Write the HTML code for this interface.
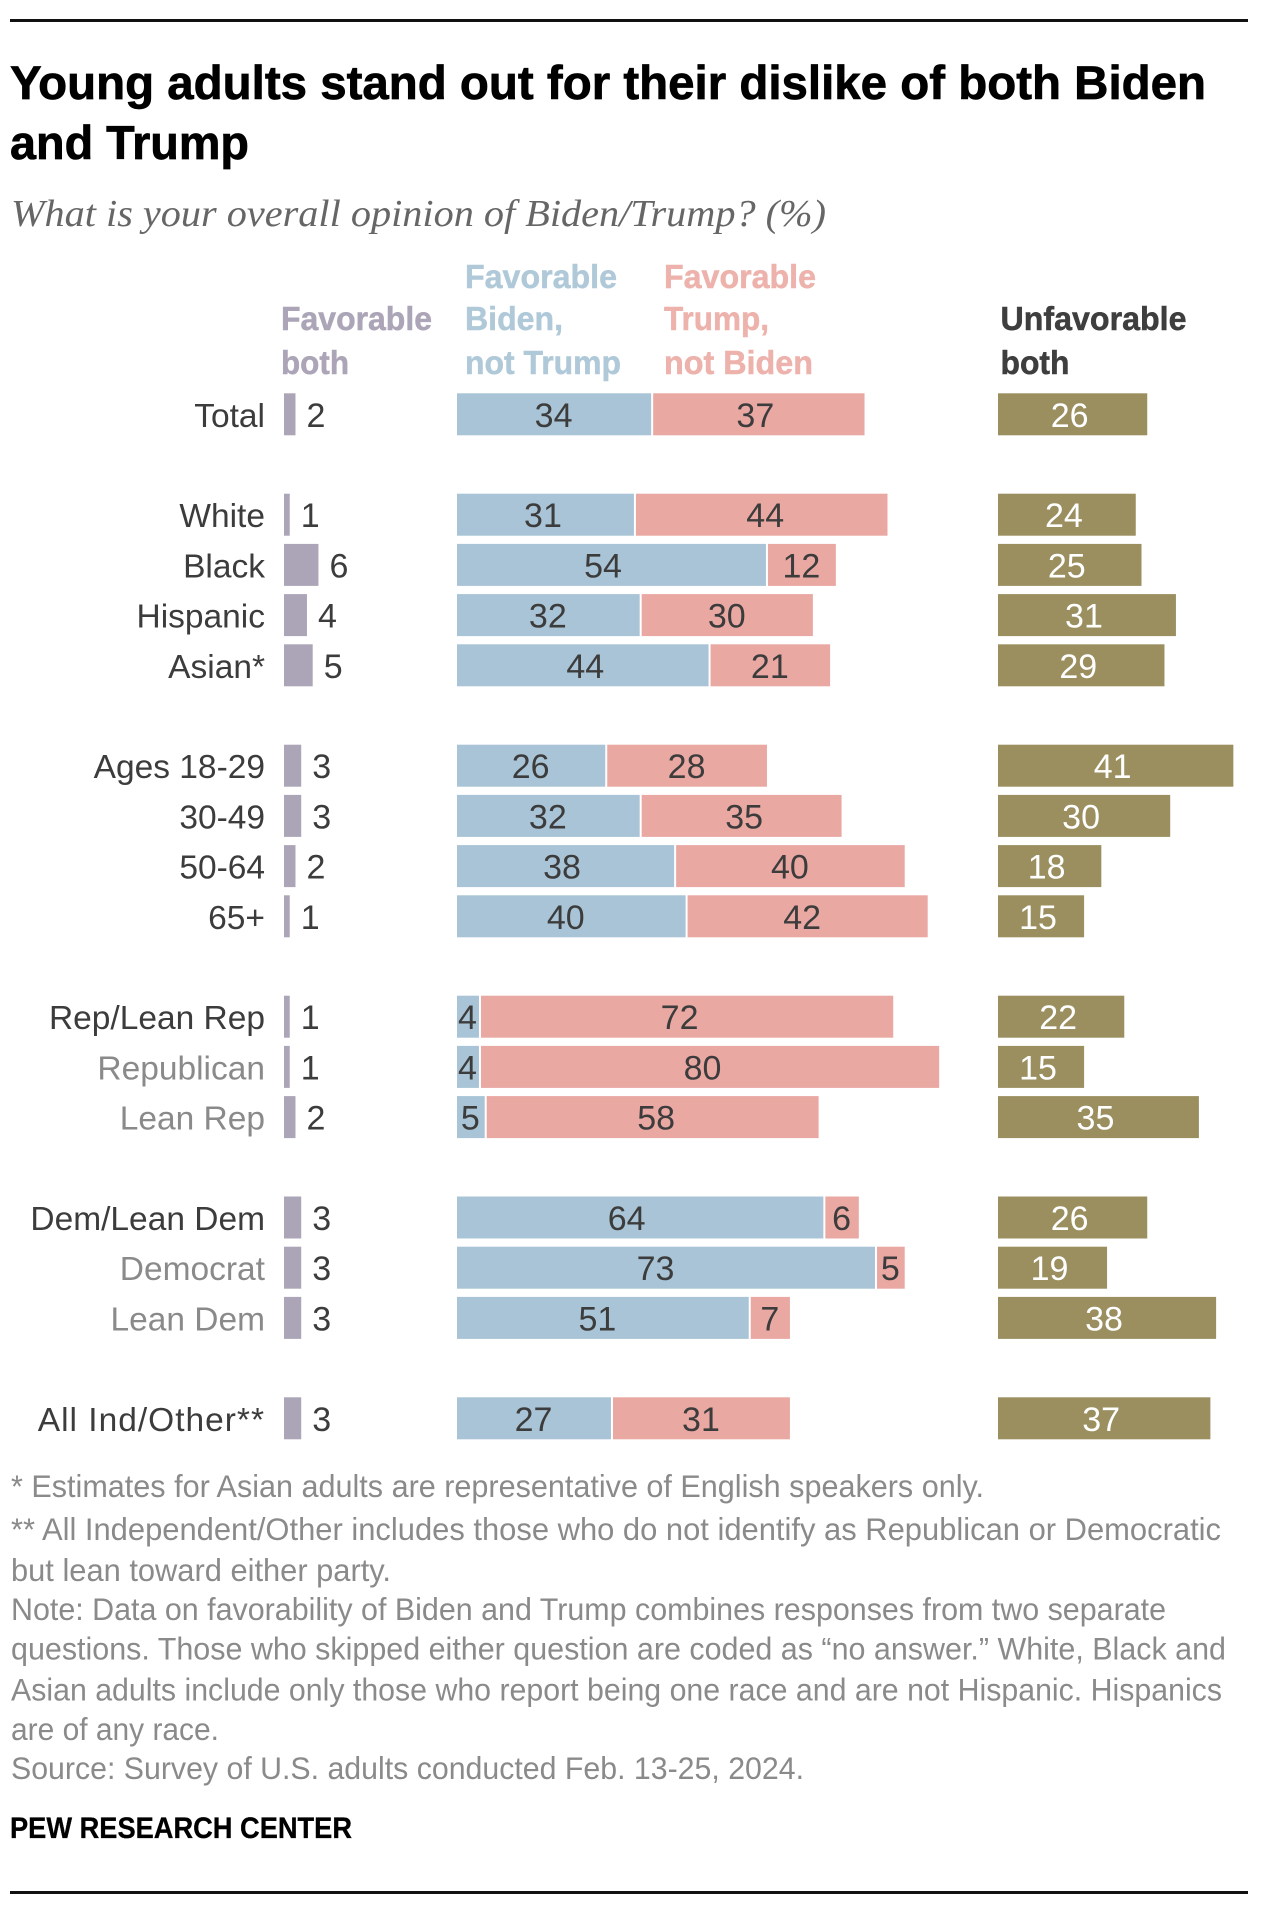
<!DOCTYPE html>
<html lang="en">
<head>
<meta charset="utf-8">
<title>Young adults stand out for their dislike of both Biden and Trump</title>
<style>
html,body{margin:0;padding:0;background:#fff;width:1273px;height:1918px;overflow:hidden}
svg{display:block}
text{font-family:"Liberation Sans",Arial,sans-serif}
.title{font-size:47px;font-weight:700;fill:#000;stroke:#000;stroke-width:.7px}
.sub{font-family:"Liberation Serif",serif;font-style:italic;font-size:38px;fill:#666}
.hd{font-size:33px;font-weight:700;stroke-width:.5px}
.note{font-size:31.5px;fill:#8a8a8a}
.lab{font-size:33.5px;fill:#3c3c3c}
.val{font-size:34px;fill:#3c3c3c}
</style>
</head>
<body>
<svg id="chart" width="1273" height="1918" viewBox="0 0 1273 1918" xmlns="http://www.w3.org/2000/svg">
  <rect x="10" y="19" width="1238" height="3" fill="#111"/>
  <text class="title" x="10" y="99" textLength="1196" lengthAdjust="spacingAndGlyphs">Young adults stand out for their dislike of both Biden</text>
  <text class="title" x="10" y="159" textLength="239" lengthAdjust="spacingAndGlyphs">and Trump</text>
  <text class="sub" x="11" y="226" textLength="815" lengthAdjust="spacingAndGlyphs">What is your overall opinion of Biden/Trump? (%)</text>

  <g fill="#aca5b7" stroke="#aca5b7">
    <text class="hd" x="281" y="330" textLength="151" lengthAdjust="spacingAndGlyphs">Favorable</text>
    <text class="hd" x="281" y="374" textLength="68" lengthAdjust="spacingAndGlyphs">both</text>
  </g>
  <g fill="#b0c9d9" stroke="#b0c9d9">
    <text class="hd" x="465" y="288" textLength="152" lengthAdjust="spacingAndGlyphs">Favorable</text>
    <text class="hd" x="465" y="330" textLength="98" lengthAdjust="spacingAndGlyphs">Biden,</text>
    <text class="hd" x="465" y="374" textLength="156" lengthAdjust="spacingAndGlyphs">not Trump</text>
  </g>
  <g fill="#edb2ac" stroke="#edb2ac">
    <text class="hd" x="664" y="288" textLength="152" lengthAdjust="spacingAndGlyphs">Favorable</text>
    <text class="hd" x="664" y="330" textLength="105" lengthAdjust="spacingAndGlyphs">Trump,</text>
    <text class="hd" x="664" y="374" textLength="149" lengthAdjust="spacingAndGlyphs">not Biden</text>
  </g>
  <g fill="#3e3e3e" stroke="#3e3e3e">
    <text class="hd" x="1000.5" y="330" textLength="186" lengthAdjust="spacingAndGlyphs">Unfavorable</text>
    <text class="hd" x="1000.5" y="374" textLength="69" lengthAdjust="spacingAndGlyphs">both</text>
  </g>

  <g id="marks"></g>

  <g>
    <text class="note" x="11" y="1497" textLength="973" lengthAdjust="spacingAndGlyphs">* Estimates for Asian adults are representative of English speakers only.</text>
    <text class="note" x="11" y="1540" textLength="1210" lengthAdjust="spacingAndGlyphs">** All Independent/Other includes those who do not identify as Republican or Democratic</text>
    <text class="note" x="11" y="1581" textLength="380" lengthAdjust="spacingAndGlyphs">but lean toward either party.</text>
    <text class="note" x="11" y="1620" textLength="1155" lengthAdjust="spacingAndGlyphs">Note: Data on favorability of Biden and Trump combines responses from two separate</text>
    <text class="note" x="11" y="1659.5" textLength="1215" lengthAdjust="spacingAndGlyphs">questions. Those who skipped either question are coded as “no answer.” White, Black and</text>
    <text class="note" x="11" y="1700.5" textLength="1211" lengthAdjust="spacingAndGlyphs">Asian adults include only those who report being one race and are not Hispanic. Hispanics</text>
    <text class="note" x="11" y="1740" textLength="208" lengthAdjust="spacingAndGlyphs">are of any race.</text>
    <text class="note" x="11" y="1779" textLength="793" lengthAdjust="spacingAndGlyphs">Source: Survey of U.S. adults conducted Feb. 13-25, 2024.</text>
  </g>
  <text x="10" y="1838" font-size="30" font-weight="700" fill="#000" stroke="#000" stroke-width=".3" textLength="342" lengthAdjust="spacingAndGlyphs">PEW RESEARCH CENTER</text>
  <rect x="10" y="1891" width="1238" height="3" fill="#111"/>
</svg>
<script>
const categories = ["Total","White","Black","Hispanic","Asian*","Ages 18-29","30-49","50-64","65+","Rep/Lean Rep","Republican","Lean Rep","Dem/Lean Dem","Democrat","Lean Dem","All Ind/Other**"];
const rowSlots = [0,2,3,4,5,7,8,9,10,12,13,14,16,17,18,20];
const mutedCategories = ["Republican","Lean Rep","Democrat","Lean Dem"];
const favorableBoth = [2,1,6,4,5,3,3,2,1,1,1,2,3,3,3,3];
const favorableBiden = [34,31,54,32,44,26,32,38,40,4,4,5,64,73,51,27];
const favorableTrump = [37,44,12,30,21,28,35,40,42,72,80,58,6,5,7,31];
const unfavorableBoth = [26,24,25,31,29,41,30,18,15,22,15,35,26,19,38,37];

const NS = "http://www.w3.org/2000/svg";
const marks = document.getElementById("marks");
const UNIT = 5.74;
const BAR_H = 42;
const yCenter = slot => 414.3 + slot * 50.2;
const len = v => v * UNIT;
const xBoth = v => 284 + len(v);
const xStack = v => 457 + len(v);
const xUnfav = v => 998 + len(v);

/* Hand-placed label offsets seen in the original layout (styling only). */
const bidenLabelShift = {"White":-2,"Black":-8,"Asian*":3,"50-64":-3,"65+":-5,"Dem/Lean Dem":-13,"Democrat":-10,"Lean Dem":-5};
const trumpLabelShift = {"Total":-3,"White":4,"30-49":3,"65+":-5,"Rep/Lean Rep":-7,"Republican":-7,"Lean Rep":4};

function rect(x, y, w, h, fill) {
  const r = document.createElementNS(NS, "rect");
  r.setAttribute("x", x);
  r.setAttribute("y", y);
  r.setAttribute("width", Math.max(w, 0));
  r.setAttribute("height", h);
  r.setAttribute("fill", fill);
  marks.appendChild(r);
  return r;
}
function label(x, y, str, cls, anchor, fill) {
  const t = document.createElementNS(NS, "text");
  t.setAttribute("x", x);
  t.setAttribute("y", y);
  t.setAttribute("class", cls);
  t.setAttribute("text-anchor", anchor);
  if (fill) t.style.fill = fill;
  t.textContent = str;
  marks.appendChild(t);
  return t;
}

categories.forEach((cat, i) => {
  const cy = yCenter(rowSlots[i]);
  const top = cy - BAR_H / 2;
  const base = cy + 12.5;
  const muted = mutedCategories.includes(cat);

  const catLabel = label(265, base, cat, "lab", "end", muted ? "#8a8a8a" : "#3c3c3c");
  
  
  if (cat.endsWith("**")) catLabel.setAttribute("letter-spacing", "1");

  const bothBar = rect(xBoth(0), top, len(favorableBoth[i]), BAR_H, "#aca5b7");
  
  
  const bothVal = label(xBoth(favorableBoth[i]) + 11, base, favorableBoth[i], "val", "start");
  
  

  const b = favorableBiden[i], t = favorableTrump[i];
  const bidenBar = rect(xStack(0), top, len(b) - 1, BAR_H, "#a9c4d6");
  
  
  const bidenVal = label(xStack(b / 2) - 1 + (bidenLabelShift[cat] || 0), base, b, "val", "middle");
  
  

  const trumpBar = rect(xStack(b) + 1, top, len(t) - 1, BAR_H, "#eaa8a3");
  
  
  const trumpVal = label(xStack(b + t / 2) + (trumpLabelShift[cat] || 0), base, t, "val", "middle");
  
  

  const unfavBar = rect(xUnfav(0), top, len(unfavorableBoth[i]), BAR_H, "#9b8f60");
  
  
  const unfavVal = label(xUnfav(unfavorableBoth[i] / 2) - 3, base, unfavorableBoth[i], "val", "middle", "#ffffff");
  
  
});
</script>
</body>
</html>
